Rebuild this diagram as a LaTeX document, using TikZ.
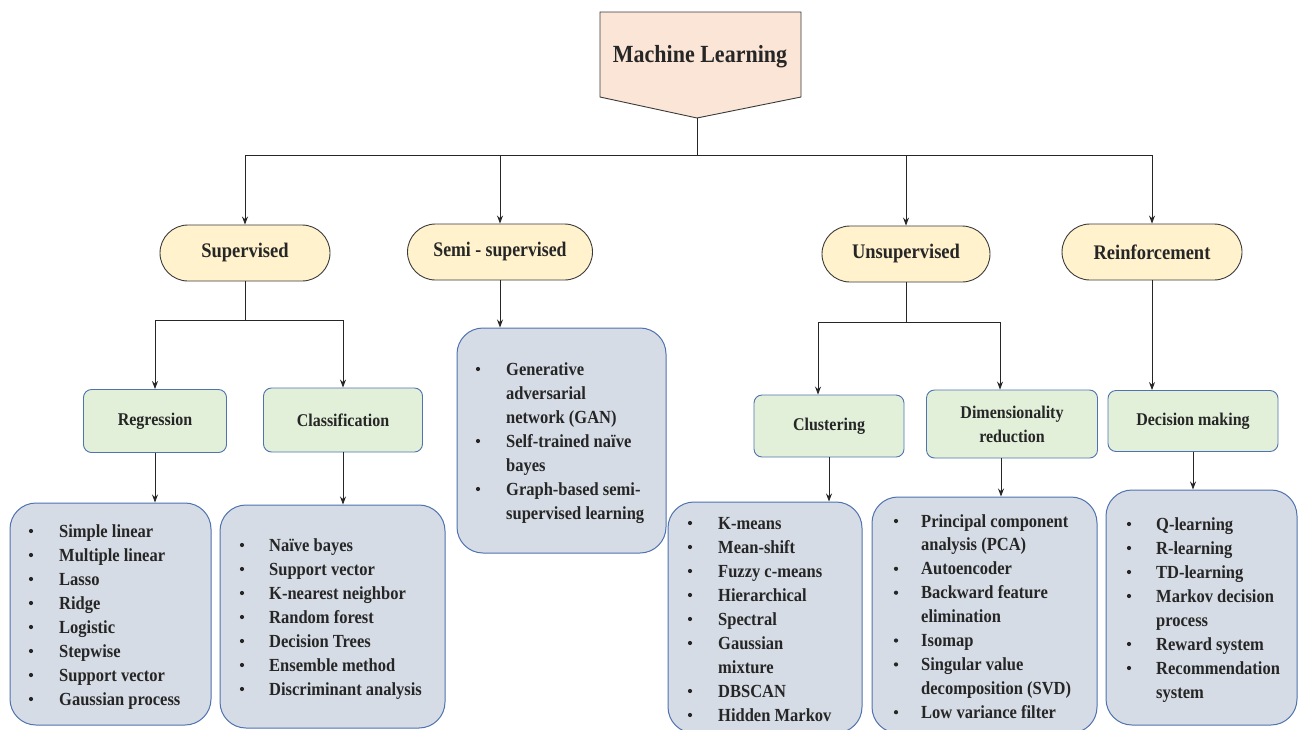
\documentclass[tikz,border=0pt]{standalone}
\usepackage{fontspec}
\setmainfont{Liberation Serif}
\usetikzlibrary{arrows.meta}
\definecolor{mlfill}{HTML}{FBE5D6}
\definecolor{catfill}{HTML}{FFF2CC}
\definecolor{subfill}{HTML}{E2F0D9}
\definecolor{listfill}{HTML}{D6DCE5}
\definecolor{blueline}{HTML}{4F72B0}
\definecolor{darkline}{HTML}{3A3A3A}
\newcommand{\tallt}[1]{\scalebox{1}[1.12]{#1}}
\begin{document}
\begin{tikzpicture}[x=1pt,y=-1pt,
  arr/.style={-{Stealth[length=8pt,width=6pt]}, line width=0.9pt, draw=black!85},
  ln/.style={line width=0.9pt, draw=black!85},
  cat/.style={draw=darkline, fill=catfill, line width=0.9pt, rounded corners=28pt, minimum height=56pt, font=\fontsize{18.5}{20}\selectfont\bfseries, text=black!85},
  sub/.style={draw=blueline, fill=subfill, line width=0.9pt, rounded corners=8pt, font=\fontsize{16}{24}\selectfont\bfseries, align=center, text=black!85},
  lbox/.style={draw=blueline, fill=listfill, line width=1pt, rounded corners=26pt},
  ltext/.style={anchor=base west, inner sep=0pt, font=\fontsize{16.5}{24}\selectfont\bfseries, text=black!85},
  bul/.style={circle, fill=black!85, inner sep=0pt, minimum size=4.2pt},
]
\useasboundingbox (0,0) rectangle (1298,729);

% title
\draw[fill=mlfill, draw=darkline, line width=0.9pt] (600,12) -- (801,12) -- (801,97) -- (697,118) -- (600,97) -- cycle;
\coordinate (mltip) at (697,118);
\node[font=\fontsize{22}{24}\selectfont\bfseries, text=black!85] (ml) at (700,57) {\tallt{Machine Learning}};

% level 2
\node[cat, minimum width=170pt] (sup) at (245,253) {\tallt{Supervised}};
\node[cat, minimum width=185pt] (semi) at (500,252) {\tallt{\scalebox{0.96}[1]{Semi - supervised}}};
\node[cat, minimum width=168pt] (uns) at (906,254) {\tallt{Unsupervised}};
\node[cat, minimum width=180pt] (rein) at (1152,252) {\tallt{Reinforcement}};

% level 3
\node[sub, minimum width=143pt, minimum height=63pt] (reg) at (155,421) {\tallt{Regression}};
\node[sub, minimum width=159pt, minimum height=64pt] (cls) at (343,420) {\tallt{Classification}};
\node[sub, minimum width=150pt, minimum height=62pt] (clu) at (829,426) {\tallt{Clustering}};
\node[sub, minimum width=171pt, minimum height=68pt] (dim) at (1012,424) {\tallt{Dimensionality}\\\tallt{reduction}};
\node[sub, minimum width=170pt, minimum height=61pt] (dec) at (1193,421) {\tallt{Decision making}};

% list boxes
\node[lbox, minimum width=201pt, minimum height=222pt] (regl) at (110.5,614) {};
\node[lbox, minimum width=225pt, minimum height=223pt] (clsl) at (332.5,616.5) {};
\node[lbox, minimum width=209pt, minimum height=225pt] (semil) at (561.5,440.5) {};
\node[lbox, minimum width=194pt, minimum height=231pt] (clul) at (765,617.5) {};
\node[lbox, minimum width=225pt, minimum height=236pt] (diml) at (984.5,615) {};
\node[lbox, minimum width=191pt, minimum height=235pt] (decl) at (1201.5,607.5) {};

% connectors
\coordinate (bar) at (694,155);
\draw[ln] (mltip) -- (mltip |- bar);
\draw[ln] (sup.north |- bar) -- (rein.north |- bar);
\draw[arr] (sup.north |- bar) -- (sup.north);
\draw[arr] (semi.north |- bar) -- (semi.north);
\draw[arr] (uns.north |- bar) -- (uns.north);
\draw[arr] (rein.north |- bar) -- (rein.north);

\coordinate (supbar) at (245,320);
\draw[ln] (sup.south) -- (sup.south |- supbar);
\draw[ln] (reg.north |- supbar) -- (cls.north |- supbar);
\draw[arr] (reg.north |- supbar) -- (reg.north);
\draw[arr] (cls.north |- supbar) -- (cls.north);

\coordinate (unsbar) at (910,322);
\coordinate (cluin) at ([xshift=-11pt]clu.north);
\coordinate (dimin) at ([xshift=-12pt]dim.north);
\draw[ln] (uns.south) -- (uns.south |- unsbar);
\draw[ln] (cluin |- unsbar) -- (dimin |- unsbar);
\draw[arr] (cluin |- unsbar) -- (cluin);
\draw[arr] (dimin |- unsbar) -- (dimin);

\draw[arr] (semi.south) -- (semi.south |- semil.north);
\draw[arr] (rein.south) -- (rein.south |- dec.north);

\draw[arr] (reg.south) -- (reg.south |- regl.north);
\draw[arr] (cls.south) -- (cls.south |- clsl.north);
\draw[arr] (clu.south) -- (clu.south |- clul.north);
\draw[arr] ([xshift=-11pt]dim.south) -- ([xshift=-11pt]dim.south |- diml.north);
\draw[arr] (dec.south) -- (dec.south |- decl.north);

% list texts
\foreach \b/\t [count=\i] in {1/Simple linear,1/Multiple linear,1/Lasso,1/Ridge,1/Logistic,1/Stepwise,1/Support vector,1/Gaussian process}{
  \node[ltext] (regt\i) at (59,{537+24*(\i-1)}) {\tallt{\t}};
  \ifnum\b=1 \node[bul] (regb\i) at (31,{531+24*(\i-1)}) {}; \fi
}
\foreach \b/\t [count=\i] in {1/Naïve bayes,1/Support vector,1/K-nearest neighbor,1/Random forest,1/Decision Trees,1/Ensemble method,1/Discriminant analysis}{
  \node[ltext] (clst\i) at (269,{551+24*(\i-1)}) {\tallt{\t}};
  \ifnum\b=1 \node[bul] (clsb\i) at (242,{545+24*(\i-1)}) {}; \fi
}
\foreach \b/\t [count=\i] in {1/Generative,0/adversarial,0/network (GAN),1/Self-trained naïve,0/bayes,1/Graph-based semi-,0/supervised learning}{
  \node[ltext] (semit\i) at (506,{375+24*(\i-1)}) {\tallt{\t}};
  \ifnum\b=1 \node[bul] (semib\i) at (478,{369+24*(\i-1)}) {}; \fi
}
\foreach \b/\t [count=\i] in {1/K-means,1/Mean-shift,1/Fuzzy c-means,1/Hierarchical,1/Spectral,1/Gaussian,0/mixture,1/DBSCAN,1/Hidden Markov}{
  \node[ltext] (clut\i) at (718,{529+24*(\i-1)}) {\tallt{\t}};
  \ifnum\b=1 \node[bul] (club\i) at (690,{523+24*(\i-1)}) {}; \fi
}
\foreach \b/\t [count=\i] in {1/Principal component,0/analysis (PCA),1/Autoencoder,1/Backward feature,0/elimination,1/Isomap,1/Singular value,0/decomposition (SVD),1/Low variance filter}{
  \node[ltext] (dimt\i) at (921,{527+23.9*(\i-1)}) {\tallt{\t}};
  \ifnum\b=1 \node[bul] (dimb\i) at (896,{521+23.9*(\i-1)}) {}; \fi
}
\foreach \b/\t [count=\i] in {1/Q-learning,1/R-learning,1/TD-learning,1/Markov decision,0/process,1/Reward system,1/Recommendation,0/system}{
  \node[ltext] (dect\i) at (1156,{530+24*(\i-1)}) {\tallt{\t}};
  \ifnum\b=1 \node[bul] (decb\i) at (1129,{524+24*(\i-1)}) {}; \fi
}
\end{tikzpicture}
\end{document}
